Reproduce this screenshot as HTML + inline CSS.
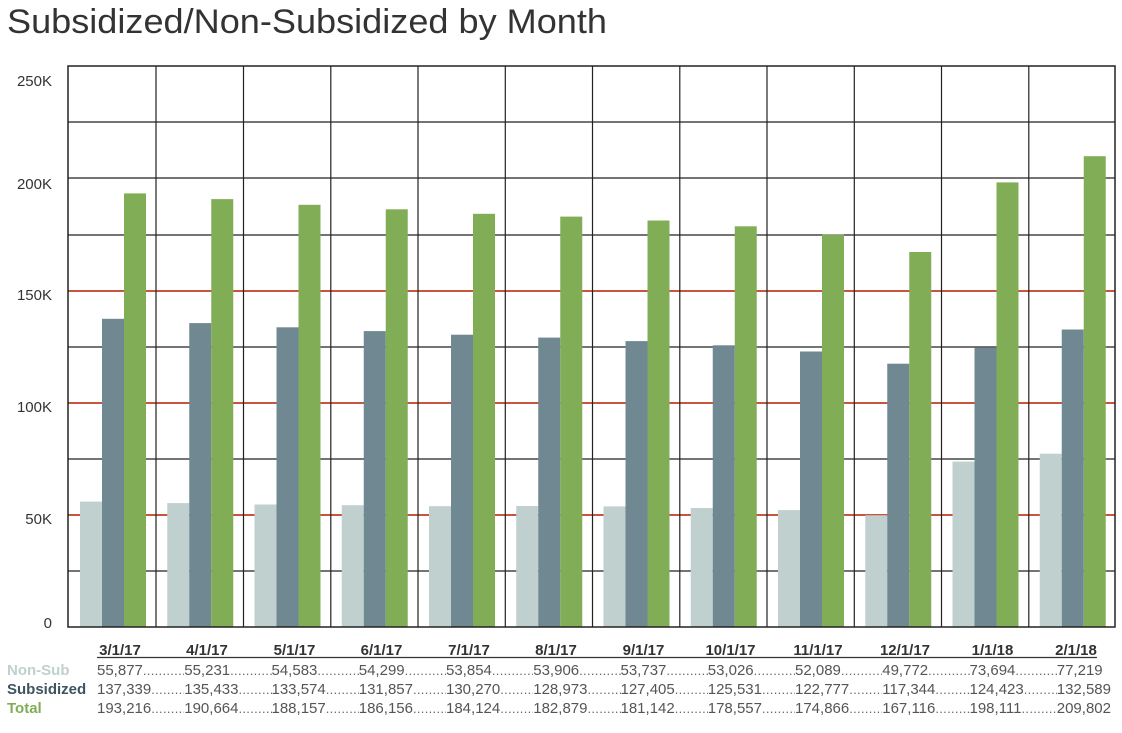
<!DOCTYPE html>
<html><head><meta charset="utf-8"><style>
body{margin:0;width:1122px;height:733px;background:#fff;overflow:hidden;position:relative;font-family:"Liberation Sans",sans-serif}
.row{position:absolute;left:97px;display:flex;font-size:15px;color:#555;height:19px;line-height:19px}
.c{width:87.25px;display:flex;white-space:nowrap;overflow:hidden}
.c span.d{flex:1;overflow:hidden;letter-spacing:0.3px;color:#666;font-size:13px}
.lab{position:absolute;left:7px;font-size:15px;font-weight:bold;line-height:19px}
</style></head><body>
<svg width="1122" height="733" style="position:absolute;left:0;top:0" font-family="Liberation Sans, sans-serif">
<text x="7" y="33" font-size="34" fill="#333" textLength="600" lengthAdjust="spacingAndGlyphs">Subsidized/Non-Subsidized by Month</text>
<g stroke="#222" stroke-width="1.2">
<line x1="68" y1="122" x2="1115" y2="122"/><line x1="68" y1="178" x2="1115" y2="178"/>
<line x1="68" y1="235" x2="1115" y2="235"/><line x1="68" y1="347" x2="1115" y2="347"/>
<line x1="68" y1="459" x2="1115" y2="459"/><line x1="68" y1="571" x2="1115" y2="571"/>
</g>
<g stroke="#c8553d" stroke-width="2">
<line x1="68" y1="291" x2="1115" y2="291"/><line x1="68" y1="403" x2="1115" y2="403"/><line x1="68" y1="515" x2="1115" y2="515"/>
</g>
<g stroke="#222" stroke-width="1.2">
<line x1="156" y1="66" x2="156" y2="627"/><line x1="243.5" y1="66" x2="243.5" y2="627"/><line x1="330.8" y1="66" x2="330.8" y2="627"/>
<line x1="418" y1="66" x2="418" y2="627"/><line x1="505.3" y1="66" x2="505.3" y2="627"/><line x1="592.5" y1="66" x2="592.5" y2="627"/>
<line x1="679.8" y1="66" x2="679.8" y2="627"/><line x1="767" y1="66" x2="767" y2="627"/><line x1="854.3" y1="66" x2="854.3" y2="627"/>
<line x1="941.5" y1="66" x2="941.5" y2="627"/><line x1="1028.8" y1="66" x2="1028.8" y2="627"/>
</g>
<g id="bars">
<g transform="translate(80,0)"><rect x="0" y="501.6" width="22" height="125.4" fill="#bfd0cf"/><rect x="22" y="318.8" width="22" height="308.2" fill="#6f8891"/><rect x="44" y="193.4" width="22" height="433.6" fill="#82ad57"/></g>
<g transform="translate(167.25,0)"><rect x="0" y="503.1" width="22" height="123.9" fill="#bfd0cf"/><rect x="22" y="323.1" width="22" height="303.9" fill="#6f8891"/><rect x="44" y="199.1" width="22" height="427.9" fill="#82ad57"/></g>
<g transform="translate(254.5,0)"><rect x="0" y="504.5" width="22" height="122.5" fill="#bfd0cf"/><rect x="22" y="327.3" width="22" height="299.7" fill="#6f8891"/><rect x="44" y="204.8" width="22" height="422.2" fill="#82ad57"/></g>
<g transform="translate(341.75,0)"><rect x="0" y="505.2" width="22" height="121.8" fill="#bfd0cf"/><rect x="22" y="331.1" width="22" height="295.9" fill="#6f8891"/><rect x="44" y="209.3" width="22" height="417.7" fill="#82ad57"/></g>
<g transform="translate(429,0)"><rect x="0" y="506.2" width="22" height="120.8" fill="#bfd0cf"/><rect x="22" y="334.7" width="22" height="292.3" fill="#6f8891"/><rect x="44" y="213.8" width="22" height="413.2" fill="#82ad57"/></g>
<g transform="translate(516.25,0)"><rect x="0" y="506" width="22" height="121" fill="#bfd0cf"/><rect x="22" y="337.6" width="22" height="289.4" fill="#6f8891"/><rect x="44" y="216.6" width="22" height="410.4" fill="#82ad57"/></g>
<g transform="translate(603.5,0)"><rect x="0" y="506.4" width="22" height="120.6" fill="#bfd0cf"/><rect x="22" y="341.1" width="22" height="285.9" fill="#6f8891"/><rect x="44" y="220.5" width="22" height="406.5" fill="#82ad57"/></g>
<g transform="translate(690.75,0)"><rect x="0" y="508" width="22" height="119" fill="#bfd0cf"/><rect x="22" y="345.3" width="22" height="281.7" fill="#6f8891"/><rect x="44" y="226.3" width="22" height="400.7" fill="#82ad57"/></g>
<g transform="translate(778,0)"><rect x="0" y="510.1" width="22" height="116.9" fill="#bfd0cf"/><rect x="22" y="351.5" width="22" height="275.5" fill="#6f8891"/><rect x="44" y="234.6" width="22" height="392.4" fill="#82ad57"/></g>
<g transform="translate(865.25,0)"><rect x="0" y="515.3" width="22" height="111.7" fill="#bfd0cf"/><rect x="22" y="363.7" width="22" height="263.3" fill="#6f8891"/><rect x="44" y="252" width="22" height="375" fill="#82ad57"/></g>
<g transform="translate(952.5,0)"><rect x="0" y="461.6" width="22" height="165.4" fill="#bfd0cf"/><rect x="22" y="347.8" width="22" height="279.2" fill="#6f8891"/><rect x="44" y="182.4" width="22" height="444.6" fill="#82ad57"/></g>
<g transform="translate(1039.75,0)"><rect x="0" y="453.7" width="22" height="173.3" fill="#bfd0cf"/><rect x="22" y="329.5" width="22" height="297.5" fill="#6f8891"/><rect x="44" y="156.2" width="22" height="470.8" fill="#82ad57"/></g>
</g>
<rect x="68" y="66" width="1047" height="561" fill="none" stroke="#222" stroke-width="1.5"/>
<g font-size="15" fill="#333" text-anchor="end">
<text x="52" y="86">250K</text><text x="52" y="189">200K</text><text x="52" y="300">150K</text>
<text x="52" y="412">100K</text><text x="52" y="524">50K</text><text x="52" y="628">0</text>
</g>
<g font-size="15" font-weight="bold" fill="#333" text-anchor="middle">
<text x="120" y="655">3/1/17</text><text x="207" y="655">4/1/17</text><text x="294.5" y="655">5/1/17</text>
<text x="381.5" y="655">6/1/17</text><text x="469" y="655">7/1/17</text><text x="556" y="655">8/1/17</text>
<text x="643.5" y="655">9/1/17</text><text x="730.5" y="655">10/1/17</text><text x="818" y="655">11/1/17</text>
<text x="905" y="655">12/1/17</text><text x="992.5" y="655">1/1/18</text><text x="1076" y="655">2/1/18</text>
</g>
<line x1="97" y1="657.5" x2="1097" y2="657.5" stroke="#333" stroke-width="1.2"/>
</svg>
<div class="lab" style="top:661px;color:#bfd0cf">Non-Sub</div>
<div class="lab" style="top:680px;color:#3e5560">Subsidized</div>
<div class="lab" style="top:699px;color:#82ad57">Total</div>
<div class="row" style="top:661px">
<div class="c">55,877<span class="d">..........................</span></div><div class="c">55,231<span class="d">..........................</span></div><div class="c">54,583<span class="d">..........................</span></div><div class="c">54,299<span class="d">..........................</span></div><div class="c">53,854<span class="d">..........................</span></div><div class="c">53,906<span class="d">..........................</span></div><div class="c">53,737<span class="d">..........................</span></div><div class="c">53,026<span class="d">..........................</span></div><div class="c">52,089<span class="d">..........................</span></div><div class="c">49,772<span class="d">..........................</span></div><div class="c">73,694<span class="d">..........................</span></div><div class="c">77,219</div>
</div>
<div class="row" style="top:680px">
<div class="c">137,339<span class="d">..........................</span></div><div class="c">135,433<span class="d">..........................</span></div><div class="c">133,574<span class="d">..........................</span></div><div class="c">131,857<span class="d">..........................</span></div><div class="c">130,270<span class="d">..........................</span></div><div class="c">128,973<span class="d">..........................</span></div><div class="c">127,405<span class="d">..........................</span></div><div class="c">125,531<span class="d">..........................</span></div><div class="c">122,777<span class="d">..........................</span></div><div class="c">117,344<span class="d">..........................</span></div><div class="c">124,423<span class="d">..........................</span></div><div class="c">132,589</div>
</div>
<div class="row" style="top:699px">
<div class="c">193,216<span class="d">..........................</span></div><div class="c">190,664<span class="d">..........................</span></div><div class="c">188,157<span class="d">..........................</span></div><div class="c">186,156<span class="d">..........................</span></div><div class="c">184,124<span class="d">..........................</span></div><div class="c">182,879<span class="d">..........................</span></div><div class="c">181,142<span class="d">..........................</span></div><div class="c">178,557<span class="d">..........................</span></div><div class="c">174,866<span class="d">..........................</span></div><div class="c">167,116<span class="d">..........................</span></div><div class="c">198,111<span class="d">..........................</span></div><div class="c">209,802</div>
</div>
</body></html>
